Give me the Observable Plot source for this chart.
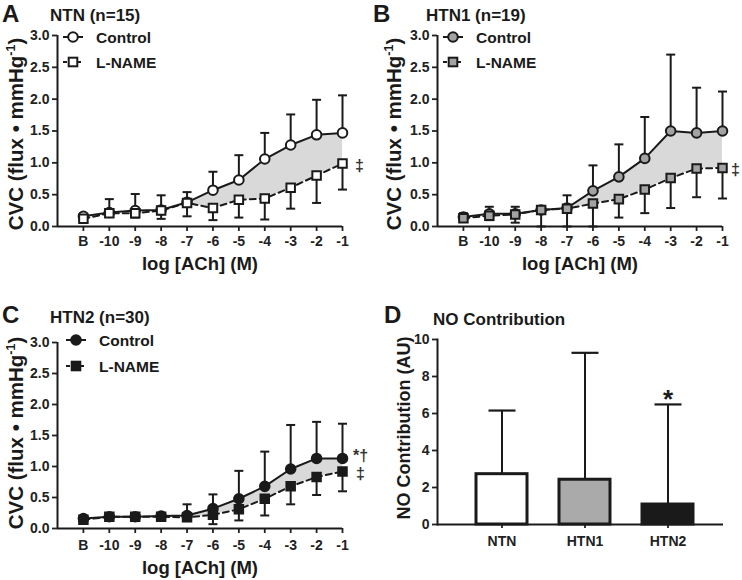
<!DOCTYPE html>
<html>
<head>
<meta charset="utf-8">
<script src="https://cdn.jsdelivr.net/npm/d3@7"></script>
<script src="https://cdn.jsdelivr.net/npm/@observablehq/plot@0.6"></script>
<style>
  body { margin: 0; background: #fff; }
  #fig { position: relative; width: 742px; height: 580px; overflow: hidden; background: #fff;
         font-family: "Liberation Sans", Arial, sans-serif; }
  #fig .panel { position: absolute; }
  #fig svg [aria-label*="axis tick"] { stroke-width: 1.8; }
  #fig svg [aria-label$="tick label"], #fig svg [aria-label$="tick label"] text { font-size: 14px; font-weight: bold; }
</style>
</head>
<body>
<div id="fig"></div>
<script>
// ---------------- DATA ----------------
const xPos = [-11, -10, -9, -8, -7, -6, -5, -4, -3, -2, -1];
const xLabels = ["B", "-10", "-9", "-8", "-7", "-6", "-5", "-4", "-3", "-2", "-1"];
const yTicks = [0, 0.5, 1, 1.5, 2, 2.5, 3];

// Panel A: NTN (n=15)
const ntnControl      = [0.16, 0.22, 0.25, 0.26, 0.38, 0.57, 0.73, 1.06, 1.28, 1.44, 1.47];
const ntnControlUpper = [0.20, 0.43, 0.51, 0.49, 0.54, 0.86, 1.12, 1.47, 1.76, 1.99, 2.06];
const ntnLname        = [0.12, 0.21, 0.21, 0.25, 0.37, 0.29, 0.42, 0.44, 0.61, 0.80, 0.99];
const ntnLnameLower   = [0.10, 0.15, 0.14, 0.12, 0.16, 0.10, 0.14, 0.11, 0.28, 0.37, 0.58];

// Panel B: HTN1 (n=19)
const htn1Control      = [0.15, 0.20, 0.20, 0.26, 0.29, 0.56, 0.78, 1.07, 1.50, 1.47, 1.50];
const htn1ControlUpper = [0.21, 0.31, 0.31, 0.27, 0.49, 0.96, 1.29, 1.72, 2.70, 2.18, 2.12];
const htn1Lname        = [0.13, 0.17, 0.19, 0.26, 0.28, 0.36, 0.43, 0.58, 0.76, 0.91, 0.92];
const htn1LnameLower   = [0.09, 0.10, 0.06, 0.00, 0.00, 0.00, 0.14, 0.21, 0.29, 0.46, 0.44];

// Panel C: HTN2 (n=30)
const htn2Control      = [0.16, 0.19, 0.19, 0.20, 0.21, 0.32, 0.48, 0.68, 0.96, 1.13, 1.13];
const htn2ControlUpper = [0.18, 0.21, 0.21, 0.22, 0.39, 0.55, 0.93, 1.24, 1.67, 1.72, 1.69];
const htn2Lname        = [0.14, 0.19, 0.19, 0.19, 0.18, 0.22, 0.31, 0.48, 0.68, 0.83, 0.92];
const htn2LnameLower   = [0.12, 0.17, 0.17, 0.17, 0.12, 0.07, 0.13, 0.21, 0.39, 0.54, 0.60];

// Panel D: NO contribution
const noGroups = ["NTN", "HTN1", "HTN2"];
const noMeans  = [2.72, 2.42, 1.08];
const noUpper  = [6.16, 9.28, 6.49];
const noSig    = ["", "", "*"];
const dTicks   = [0, 2, 4, 6, 8, 10];

// Annotations next to the last dose
const annotA = [{series: "L-NAME", text: "\u2021"}];
const annotB = [{series: "L-NAME", text: "\u2021"}];
const annotC = [{series: "Control", text: "*\u2020"}, {series: "L-NAME", text: "\u2021"}];

const shadeFrom = -7;

// ---------------- HELPERS ----------------
const ink = "#1a1a1a";
const FONT = '"Liberation Sans", Arial, sans-serif';
const capSymbol = {
  draw(ctx, size) {
    const w = Math.sqrt(size / Math.PI);
    ctx.moveTo(-w, 0);
    ctx.lineTo(w, 0);
  }
};
const fig = document.getElementById("fig");
function place(node, left, top) {
  const d = document.createElement("div");
  d.className = "panel";
  d.style.left = left + "px";
  d.style.top = top + "px";
  d.appendChild(node);
  fig.appendChild(d);
}
const baseStyle = {fontFamily: FONT, fontSize: "14px", fontWeight: "bold", color: "#222",
                   background: "transparent", overflow: "visible"};

function linePanel(g) {
  const ctrl = xPos.map((x, i) => ({x, y: g.ctrl[i], e: g.ctrlErr[i]}));
  const ln = xPos.map((x, i) => ({x, y: g.ln[i], e: g.lnErr[i]}));
  const band = xPos.map((x, i) => ({x, lo: g.ln[i], hi: g.ctrl[i]})).filter(d => d.x >= shadeFrom);
  const last = xPos.length - 1;
  const annFor = s => g.annot.filter(a => a.series === s)
    .map(a => ({x: xPos[last], y: (s === "Control" ? g.ctrl : g.ln)[last], text: a.text}));
  const annStyle = {x: "x", y: "y", text: "text", dx: g.annDx, fontSize: 16, fontWeight: "bold",
                    fill: "#333", textAnchor: "middle"};
  return Plot.plot({
    width: g.width, height: g.height,
    marginLeft: 57, marginRight: g.mr, marginTop: g.mt, marginBottom: g.mb,
    style: baseStyle,
    x: {domain: [-12, -1], ticks: xPos, tickFormat: d => xLabels[xPos.indexOf(d)],
        tickSize: 5, tickPadding: g.xPad, label: null},
    y: {domain: [0, 3], ticks: yTicks, tickFormat: d3.format(".1f"), tickSize: 5, tickPadding: 3, label: null},
    marks: [
      Plot.areaY(band, {x: "x", y1: "lo", y2: "hi", fill: "#d9d9d9"}),
      Plot.ruleX(ctrl, {x: "x", y1: "y", y2: "e", stroke: ink, strokeWidth: 2}),
      Plot.dot(ctrl, {x: "x", y: "e", symbol: capSymbol, r: 4.5, fill: "none", stroke: ink, strokeWidth: 2}),
      Plot.ruleX(ln, {x: "x", y1: "y", y2: "e", stroke: ink, strokeWidth: 2}),
      Plot.dot(ln, {x: "x", y: "e", symbol: capSymbol, r: 4.5, fill: "none", stroke: ink, strokeWidth: 2}),
      Plot.line(ctrl, {x: "x", y: "y", stroke: ink, strokeWidth: 2}),
      Plot.line(ln, {x: "x", y: "y", stroke: ink, strokeWidth: 2, strokeDasharray: "6,4"}),
      Plot.ruleY([0], {stroke: ink, strokeWidth: 2}),
      Plot.ruleX([-12], {stroke: ink, strokeWidth: 2}),
      Plot.dot(ctrl, {x: "x", y: "y", symbol: "circle", r: 4.8, fill: g.fill, stroke: ink, strokeWidth: 2}),
      Plot.dot(ln, {x: "x", y: "y", symbol: "square", r: 4.8, fill: g.fill, stroke: ink, strokeWidth: 2}),
      Plot.text(annFor("Control"), {...annStyle, dy: -3}),
      Plot.text(annFor("L-NAME"), {...annStyle, dy: 2})
    ]
  });
}

// ---------------- PANELS A-C ----------------
place(linePanel({ctrl: ntnControl, ctrlErr: ntnControlUpper, ln: ntnLname, lnErr: ntnLnameLower,
  fill: "#ffffff", annot: annotA, width: 371, height: 290, mt: 35, mb: 64, mr: 29, xPad: 5, annDx: 17}), 0, 0);
place(linePanel({ctrl: htn1Control, ctrlErr: htn1ControlUpper, ln: htn1Lname, lnErr: htn1LnameLower,
  fill: "#a3a3a3", annot: annotB, width: 362, height: 290, mt: 35, mb: 64, mr: 20, xPad: 5, annDx: 13}), 380, 0);
place(linePanel({ctrl: htn2Control, ctrlErr: htn2ControlUpper, ln: htn2Lname, lnErr: htn2LnameLower,
  fill: ink, annot: annotC, width: 371, height: 290, mt: 52, mb: 52, mr: 29, xPad: 7, annDx: 18}), 0, 290);

// ---------------- PANEL D ----------------
const dData = noGroups.map((g, i) => ({g, v: noMeans[i], e: noUpper[i], sig: noSig[i]}));
const barFill = {NTN: "#ffffff", HTN1: "#aaaaaa", HTN2: ink};
place(Plot.plot({
  width: 371, height: 290, marginLeft: 66, marginRight: 19, marginTop: 49, marginBottom: 56,
  style: baseStyle,
  x: {domain: noGroups, paddingInner: 0.383, paddingOuter: 0.404, align: 0.56,
      tickSize: 4, tickPadding: 8, label: null},
  y: {domain: [0, 10], ticks: dTicks, tickSize: 5, tickPadding: 3, label: null},
  marks: [
    Plot.ruleX(dData, {x: "g", y1: "v", y2: "e", stroke: ink, strokeWidth: 2}),
    Plot.dot(dData, {x: "g", y: "e", symbol: capSymbol, r: 13.5, fill: "none", stroke: ink, strokeWidth: 2.2}),
    Plot.barY(dData, {x: "g", y: "v", fill: d => barFill[d.g], stroke: ink, strokeWidth: 3}),
    Plot.ruleY([0], {stroke: ink, strokeWidth: 2}),
    Plot.frame({anchor: "left", stroke: ink, strokeWidth: 2}),
    Plot.text(dData, {x: "g", y: "e", text: "sig", dy: -5, fontSize: 26, fontWeight: "bold", fill: ink})
  ]
}), 371, 290);

// ---------------- OVERLAY TEXT (titles, legends, axis titles) ----------------
const ov = d3.select(fig).append("svg")
  .attr("width", 742).attr("height", 580)
  .style("position", "absolute").style("left", "0px").style("top", "0px")
  .style("font-family", FONT).style("font-weight", "bold").attr("fill", ink);

const letters = [
  {t: "A", x: 2, y: 22}, {t: "B", x: 373, y: 22}, {t: "C", x: 2, y: 323}, {t: "D", x: 384, y: 323}
];
letters.forEach(d => ov.append("text").attr("x", d.x).attr("y", d.y).attr("font-size", 24).text(d.t));

const titles = [
  {t: "NTN (n=15)", x: 50, y: 21}, {t: "HTN1 (n=19)", x: 426, y: 21},
  {t: "HTN2 (n=30)", x: 50, y: 323}, {t: "NO Contribution", x: 433, y: 325}
];
titles.forEach(d => ov.append("text").attr("x", d.x).attr("y", d.y).attr("font-size", 17).text(d.t));

const xTitles = [{x: 200, y: 270}, {x: 580, y: 270}, {x: 200, y: 574}];
xTitles.forEach(d => ov.append("text").attr("x", d.x).attr("y", d.y).attr("font-size", 18.5)
  .attr("text-anchor", "middle").text("log [ACh] (M)"));

const yTitles = [{x: 16, y: 134}, {x: 394, y: 134}, {x: 16, y: 433}];
yTitles.forEach(d => {
  const t = ov.append("text").attr("transform", `translate(${d.x},${d.y}) rotate(-90)`)
    .attr("text-anchor", "middle").attr("y", 7).attr("font-size", 20.5);
  t.append("tspan").text("CVC (flux \u2022 mmHg");
  t.append("tspan").attr("dy", -8).attr("font-size", 12.5).text("-1");
  t.append("tspan").attr("dy", 8).text(")");
});
ov.append("text").attr("transform", "translate(403,428) rotate(-90)")
  .attr("text-anchor", "middle").attr("y", 6.5).attr("font-size", 18).text("NO Contribution (AU)");

// legends
const legends = [
  {x: 73, y1: 37, y2: 62, fill: "#ffffff"},
  {x: 453, y1: 37, y2: 62, fill: "#a3a3a3"},
  {x: 76, y1: 340, y2: 366, fill: ink}
];
legends.forEach(L => {
  ov.append("line").attr("x1", L.x - 10).attr("x2", L.x + 10).attr("y1", L.y1).attr("y2", L.y1)
    .attr("stroke", ink).attr("stroke-width", 2);
  ov.append("circle").attr("cx", L.x).attr("cy", L.y1).attr("r", 4.8)
    .attr("fill", L.fill).attr("stroke", ink).attr("stroke-width", 2);
  ov.append("text").attr("x", L.x + 23).attr("y", L.y1 + 5.5).attr("font-size", 15.5).text("Control");
  ov.append("line").attr("x1", L.x - 10).attr("x2", L.x + 11).attr("y1", L.y2).attr("y2", L.y2)
    .attr("stroke", ink).attr("stroke-width", 2).attr("stroke-dasharray", "4,3");
  ov.append("rect").attr("x", L.x - 4.3).attr("y", L.y2 - 4.3).attr("width", 8.6).attr("height", 8.6)
    .attr("fill", L.fill).attr("stroke", ink).attr("stroke-width", 2);
  ov.append("text").attr("x", L.x + 23).attr("y", L.y2 + 5.5).attr("font-size", 15.5).text("L-NAME");
});
</script>
</body>
</html>
